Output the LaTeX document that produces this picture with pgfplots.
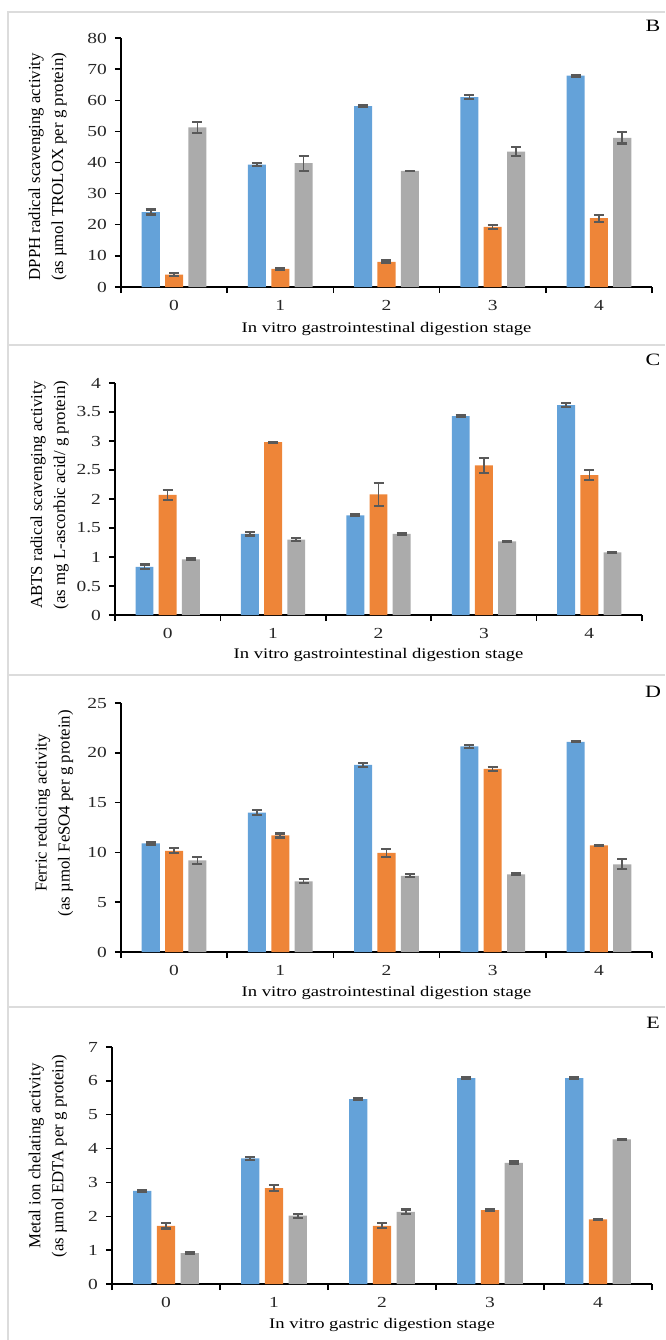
\documentclass[border=0pt]{standalone}
\usepackage{fontspec}
\setmainfont{Liberation Serif}
\newfontfamily\wfont{Liberation Serif}[FakeStretch=1.27]
\usepackage{pgfplots}
\usepackage{pgfplotstable}
\pgfplotsset{compat=1.18}
\definecolor{cblue}{HTML}{64A2D9}
\definecolor{corange}{HTML}{EE8538}
\definecolor{cgray}{HTML}{ABABAB}
\definecolor{errc}{HTML}{595959}
\definecolor{framec}{HTML}{DCDCDC}

\pgfplotstableread{
x b be o oe g ge
0 24.1 0.8 4.0 0.5 51.3 1.7
1 39.3 0.5 5.8 0.2 39.8 2.4
2 58.1 0.3 8.1 0.4 37.3 0.1
3 61.0 0.7 19.3 0.6 43.5 1.4
4 67.9 0.3 22.1 1.1 47.9 1.8
}\tabB
\pgfplotstableread{
x b be o oe g ge
0 0.83 0.04 2.07 0.08 0.96 0.015
1 1.40 0.03 2.98 0.005 1.30 0.03
2 1.72 0.02 2.08 0.20 1.40 0.02
3 3.43 0.02 2.58 0.13 1.27 0.01
4 3.62 0.03 2.41 0.085 1.08 0.01
}\tabC
\pgfplotstableread{
x b be o oe g ge
0 10.9 0.1 10.15 0.25 9.2 0.33
1 14.0 0.25 11.7 0.2 7.1 0.2
2 18.8 0.2 9.95 0.4 7.65 0.15
3 20.65 0.15 18.4 0.2 7.8 0.1
4 21.1 0.05 10.7 0.03 8.8 0.5
}\tabD
\pgfplotstableread{
x b be o oe g ge
0 2.75 0.02 1.72 0.08 0.91 0.02
1 3.71 0.05 2.83 0.09 2.02 0.06
2 5.46 0.02 1.72 0.07 2.13 0.07
3 6.08 0.02 2.18 0.02 3.58 0.04
4 6.08 0.02 1.91 0.02 4.27 0.02
}\tabE

\pgfplotsset{
  panel/.style={
    scale only axis,
    axis lines=left,
    axis line style={-, line width=1.1pt, black},
    xmin=-0.5, xmax=4.5, ymin=0,
    xtick={-0.5,0.5,1.5,2.5,3.5,4.5},
    xticklabels={},
    extra x ticks={0,1,2,3,4},
    extra x tick labels={0,1,2,3,4},
    extra x tick style={major tick length=0pt},
    tick align=outside,
    major tick length=4.5pt,
    tick style={line width=1.1pt, black},
    /pgf/number format/assume math mode=true,
    tick label style={font=\wfont\fontsize{11.5}{13}\selectfont, color=black!85},
    xticklabel style={anchor=center, yshift=-13.5pt},
    yticklabel style={xshift=-2.5pt},
    xlabel style={font=\wfont\fontsize{11}{13}\selectfont, anchor=center},
    ylabel style={font=\fontsize{12.6}{17.25}\selectfont, align=center, anchor=center},
  },
  eb/.style={
    error bars/.cd, y dir=both, y explicit,
    error bar style={color=errc, line width=1.2pt},
    error mark options={rotate=90, mark size=3.75pt, line width=1.6pt, color=errc},
  },
  bb/.style={ybar, bar width=0.17, bar shift=0, fill=cblue, draw=none, eb},
  bo/.style={ybar, bar width=0.17, bar shift=0, fill=corange, draw=none, eb},
  bg/.style={ybar, bar width=0.17, bar shift=0, fill=cgray, draw=none, eb},
}

\begin{document}
\begin{tikzpicture}
\path[use as bounding box] (0,0) rectangle (498.75pt,-1005pt);
% frames
\draw[framec, line width=1.5pt] (498.75pt,-9pt) -- (6pt,-9pt) -- (6pt,-1005pt);
\draw[framec, line width=1.5pt] (6pt,-258.75pt) -- (498.75pt,-258.75pt);
\draw[framec, line width=1.5pt] (6pt,-506.25pt) -- (498.75pt,-506.25pt);
\draw[framec, line width=1.5pt] (6pt,-755.25pt) -- (498.75pt,-755.25pt);

% Panel B
\begin{axis}[panel, at={(90.75pt,-215.25pt)}, anchor=south west,
  width=398.25pt, height=186.75pt, ymax=80, ytick={0,10,...,80},
  xlabel={In vitro gastrointestinal digestion stage},
  xlabel style={at={(axis description cs:0.5,-0.169)}},
  ylabel={DPPH radical scavenging activity\\(as µmol TROLOX per g protein)},
  ylabel style={at={(axis description cs:-0.138,0.483)}}]
\addplot[bb] table[x expr=\thisrow{x}-0.22, y=b, y error=be] {\tabB};
\addplot[bo] table[x=x, y=o, y error=oe] {\tabB};
\addplot[bg] table[x expr=\thisrow{x}+0.22, y=g, y error=ge] {\tabB};
\end{axis}

% Panel C
\begin{axis}[panel, at={(86.25pt,-461.25pt)}, anchor=south west,
  width=395.25pt, height=174pt, ymax=4, ytick={0,0.5,...,4},
  xlabel={In vitro gastrointestinal digestion stage},
  xlabel style={at={(axis description cs:0.5,-0.172)}},
  ylabel={ABTS radical scavenging activity\\(as mg L-ascorbic acid/ g protein)},
  ylabel style={at={(axis description cs:-0.124,0.517)}}]
\addplot[bb] table[x expr=\thisrow{x}-0.22, y=b, y error=be] {\tabC};
\addplot[bo] table[x=x, y=o, y error=oe] {\tabC};
\addplot[bg] table[x expr=\thisrow{x}+0.22, y=g, y error=ge] {\tabC};
\end{axis}

% Panel D
\begin{axis}[panel, at={(90.75pt,-714pt)}, anchor=south west,
  width=398.25pt, height=186.75pt, ymax=25, ytick={0,5,...,25},
  xlabel={In vitro gastrointestinal digestion stage},
  xlabel style={at={(axis description cs:0.5,-0.165)}},
  ylabel={Ferric reducing activity\\(as µmol FeSO4 per g protein)},
  ylabel style={at={(axis description cs:-0.126,0.558)}}]
\addplot[bb] table[x expr=\thisrow{x}-0.22, y=b, y error=be] {\tabD};
\addplot[bo] table[x=x, y=o, y error=oe] {\tabD};
\addplot[bg] table[x expr=\thisrow{x}+0.22, y=g, y error=ge] {\tabD};
\end{axis}

% Panel E
\begin{axis}[panel, at={(84pt,-963pt)}, anchor=south west,
  width=405pt, height=177.75pt, ymax=7, ytick={0,1,...,7},
  xlabel={In vitro gastric digestion stage},
  xlabel style={at={(axis description cs:0.5,-0.173)}},
  ylabel={Metal ion chelating activity\\(as µmol EDTA per g protein)},
  ylabel style={at={(axis description cs:-0.119,0.54)}}]
\addplot[bb] table[x expr=\thisrow{x}-0.22, y=b, y error=be] {\tabE};
\addplot[bo] table[x=x, y=o, y error=oe] {\tabE};
\addplot[bg] table[x expr=\thisrow{x}+0.22, y=g, y error=ge] {\tabE};
\end{axis}

% panel letters
\node[font=\wfont\fontsize{13}{15}\selectfont] at (489.75pt,-19.5pt) {B};
\node[font=\wfont\fontsize{13}{15}\selectfont] at (489.75pt,-270pt) {C};
\node[font=\wfont\fontsize{13}{15}\selectfont] at (489.75pt,-519pt) {D};
\node[font=\wfont\fontsize{13}{15}\selectfont] at (489.75pt,-767.25pt) {E};
\end{tikzpicture}
\end{document}
